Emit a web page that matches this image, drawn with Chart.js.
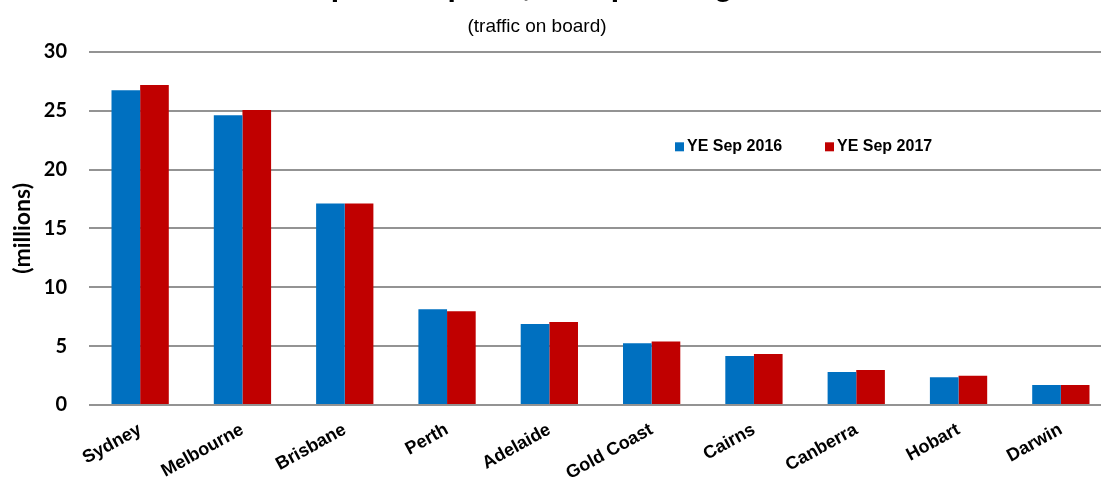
<!DOCTYPE html>
<html lang="en">
<head>
    <meta charset="UTF-8">
    <title>Airport passengers</title>
    <style>
        html, body {
            margin: 0;
            padding: 0;
            background: #fff;
            overflow: hidden;
        }
        .chart-container {
            position: relative;
            width: 1101px;
            height: 483px;
            overflow: hidden;
        }
        /* canvas is a bit bigger than the window: the original picture is cropped */
        #airportChart {
            position: absolute;
            left: -38px;
            top: -30px;
        }
    </style>
</head>
<body>
    <div class="chart-container">
        <canvas id="airportChart" width="1150" height="513"></canvas>
    </div>

    <script src="https://cdn.jsdelivr.net/npm/chart.js"></script>
    <script>
        const airports = ['Sydney', 'Melbourne', 'Brisbane', 'Perth', 'Adelaide',
            'Gold Coast', 'Cairns', 'Canberra', 'Hobart', 'Darwin'];
        const seriesNames = ['YE Sep 2016', 'YE Sep 2017'];
        const passengers2016 = [26.73, 24.61, 17.12, 8.14, 6.89, 5.25, 4.17, 2.81, 2.35, 1.70];
        const passengers2017 = [27.19, 25.06, 17.12, 7.97, 7.06, 5.39, 4.34, 2.98, 2.49, 1.70];
        const yTicks = [0, 5, 10, 15, 20, 25, 30];

        const BLUE = '#0070C0';
        const RED = '#C00000';

        // Legend sits inside the plot area, right of centre
        const innerLegend = {
            id: 'innerLegend',
            afterDatasetsDraw(chart) {
                const ctx = chart.ctx;
                const area = chart.chartArea;
                let x = area.left + 586;
                const y = area.top + 95;
                ctx.save();
                ctx.font = 'bold 16px "Liberation Sans", Arial, sans-serif';
                ctx.textBaseline = 'middle';
                ctx.textAlign = 'left';
                chart.data.datasets.forEach(ds => {
                    ctx.fillStyle = ds.backgroundColor;
                    ctx.fillRect(x, y - 4.5, 9, 9);
                    ctx.fillStyle = '#000';
                    ctx.fillText(ds.label, x + 12, y);
                    x += 150;
                });
                ctx.restore();
            }
        };

        new Chart(document.getElementById('airportChart').getContext('2d'), {
            type: 'bar',
            data: {
                labels: airports,
                datasets: [{
                    label: seriesNames[0],
                    data: passengers2016,
                    backgroundColor: BLUE,
                    borderWidth: 0
                }, {
                    label: seriesNames[1],
                    data: passengers2017,
                    backgroundColor: RED,
                    borderWidth: 0
                }]
            },
            options: {
                responsive: false,
                animation: false,
                layout: { padding: 0 },
                datasets: {
                    bar: { categoryPercentage: 0.56, barPercentage: 1.0 }
                },
                plugins: {
                    legend: { display: false },
                    tooltip: { enabled: false },
                    title: {
                        display: true,
                        text: 'Top ten airports, total passengers',
                        color: '#000',
                        font: { family: '"Liberation Sans", Arial, sans-serif', size: 30, weight: 'bold' },
                        padding: { top: 0, bottom: 0 }
                    },
                    subtitle: {
                        display: true,
                        text: '(traffic on board)',
                        color: '#000',
                        font: { family: '"Liberation Sans", Arial, sans-serif', size: 19 },
                        padding: { top: 9, bottom: 14 }
                    }
                },
                scales: {
                    x: {
                        grid: { display: false },
                        border: { display: false },
                        ticks: {
                            color: '#000',
                            font: { family: '"Liberation Sans", Arial, sans-serif', size: 18, weight: 'bold' },
                            minRotation: 29,
                            maxRotation: 29,
                            autoSkip: false,
                            padding: 6
                        },
                        afterFit: s => { s.height = 78; }
                    },
                    y: {
                        min: 0,
                        max: 30,
                        afterBuildTicks: s => { s.ticks = yTicks.map(v => ({ value: v })); },
                        grid: {
                            color: '#939393',
                            lineWidth: 2,
                            drawTicks: false
                        },
                        border: { display: false },
                        ticks: {
                            color: '#000',
                            font: { family: 'Lato, sans-serif', size: 20, weight: 'bold' },
                            padding: 22
                        },
                        title: {
                            display: true,
                            text: '(millions)',
                            color: '#000',
                            font: { family: 'Lato, sans-serif', size: 23, weight: 'bold' },
                            padding: { top: 47, bottom: 0 }
                        },
                        afterFit: s => { s.width = 127; }
                    }
                }
            },
            plugins: [innerLegend]
        });
    </script>
</body>
</html>
